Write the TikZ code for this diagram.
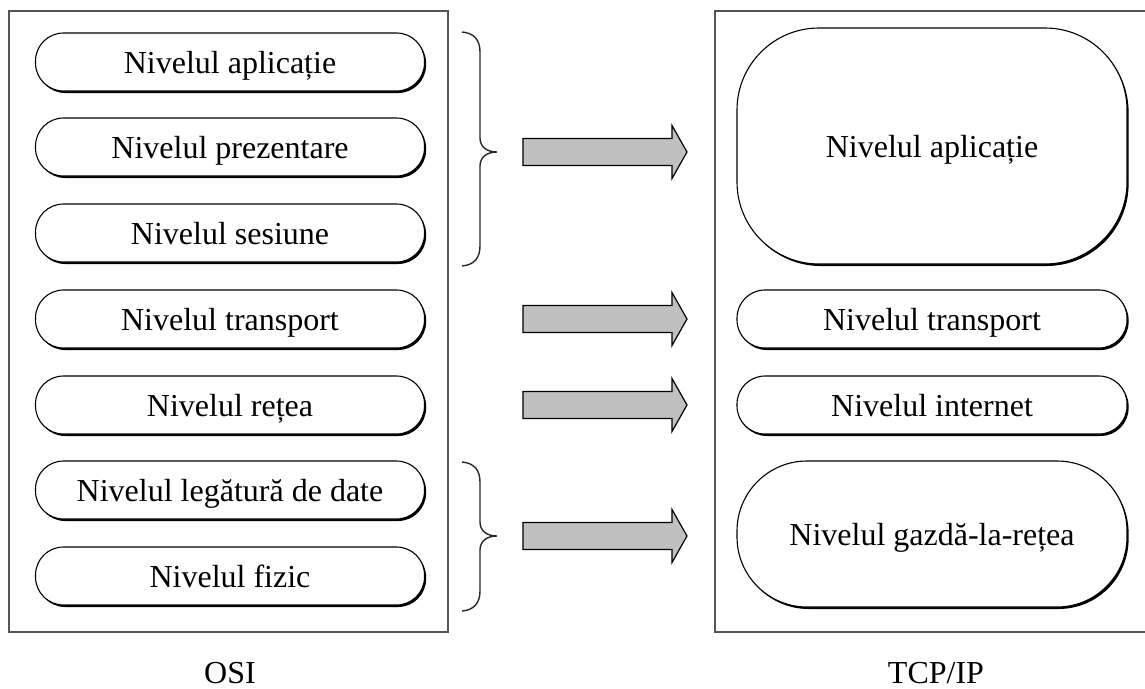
\documentclass[tikz,border=0pt]{standalone}
\usepackage{fontspec}
\setmainfont{Liberation Serif}
\usetikzlibrary{shadows}
\definecolor{framegray}{HTML}{555555}
\definecolor{arrowgray}{HTML}{C0C0C0}
\begin{document}
\begin{tikzpicture}[x=1pt,y=-1pt,
  font=\fontsize{32}{38}\selectfont,
  frame/.style={draw=framegray, line width=2pt},
  layer/.style={draw=black, fill=white, line width=1.1pt,
    drop shadow={shadow xshift=1.6pt, shadow yshift=-2pt, opacity=1, fill=black},
    inner sep=0pt, text height=24pt, text depth=2pt},
  pill/.style={layer, rounded corners=28pt, minimum width=389pt, minimum height=58pt},
  brace/.style={draw=black!85, line width=1.4pt},
  label/.style={inner sep=0pt, text height=24pt, text depth=2pt},
  bigarrow/.pic={
    \draw[fill=arrowgray, line width=1.2pt, line join=miter]
      (-82,-13.5) -- (67,-13.5) -- (67,-26.5) -- (82,0) -- (67,26.5)
      -- (67,13.5) -- (-82,13.5) -- cycle;
  }]
  \useasboundingbox (0,0) rectangle (1145,688);
  \clip (0,0) rectangle (1145,688);

  % outer frames of both models
  \draw[frame] (9,11) rectangle (448,632);
  \draw[frame] (715,11) rectangle (1160,632);

  % OSI layers
  \node[pill] (osi7) at (230,62)  {Nivelul aplicație};
  \node[pill] (osi6) at (230,147) {Nivelul prezentare};
  \node[pill] (osi5) at (230,233) {Nivelul sesiune};
  \node[pill] (osi4) at (230,319) {Nivelul transport};
  \node[pill] (osi3) at (230,405) {Nivelul rețea};
  \node[pill] (osi2) at (230,490) {Nivelul legătură de date};
  \node[pill] (osi1) at (230,576) {Nivelul fizic};

  % TCP/IP layers
  \node[layer, rounded corners=82pt, minimum width=390pt, minimum height=236pt]
    (tcp4) at (932,146) {Nivelul aplicație};
  \node[pill, minimum width=390pt] (tcp3) at (932,319) {Nivelul transport};
  \node[pill, minimum width=390pt] (tcp2) at (932,405) {Nivelul internet};
  \node[layer, rounded corners=70pt, minimum width=390pt, minimum height=146pt]
    (tcp1) at (932,534) {Nivelul gazdă-la-rețea};

  % braces grouping OSI layers
  \draw[brace] (462,32) .. controls (474,33) and (480,40) .. (480,52)
    -- (480,138) .. controls (480,147) and (487,152) .. (497,152)
    .. controls (487,152) and (480,157) .. (480,166)
    -- (480,246) .. controls (480,258) and (474,265) .. (462,266);
  \draw[brace] (462,462) .. controls (474,463) and (480,470) .. (480,482)
    -- (480,522) .. controls (480,531) and (487,536) .. (497,536)
    .. controls (487,536) and (480,541) .. (480,550)
    -- (480,591) .. controls (480,603) and (474,610) .. (462,611);

  % mapping arrows
  \pic at (605,152) {bigarrow};
  \pic at (605,319) {bigarrow};
  \pic at (605,405) {bigarrow};
  \pic at (605,536) {bigarrow};

  % model names
  \node[label] (osiname) at (230,672) {OSI};
  \node[label] (tcpname) at (936,672) {TCP/IP};
\end{tikzpicture}
\end{document}
